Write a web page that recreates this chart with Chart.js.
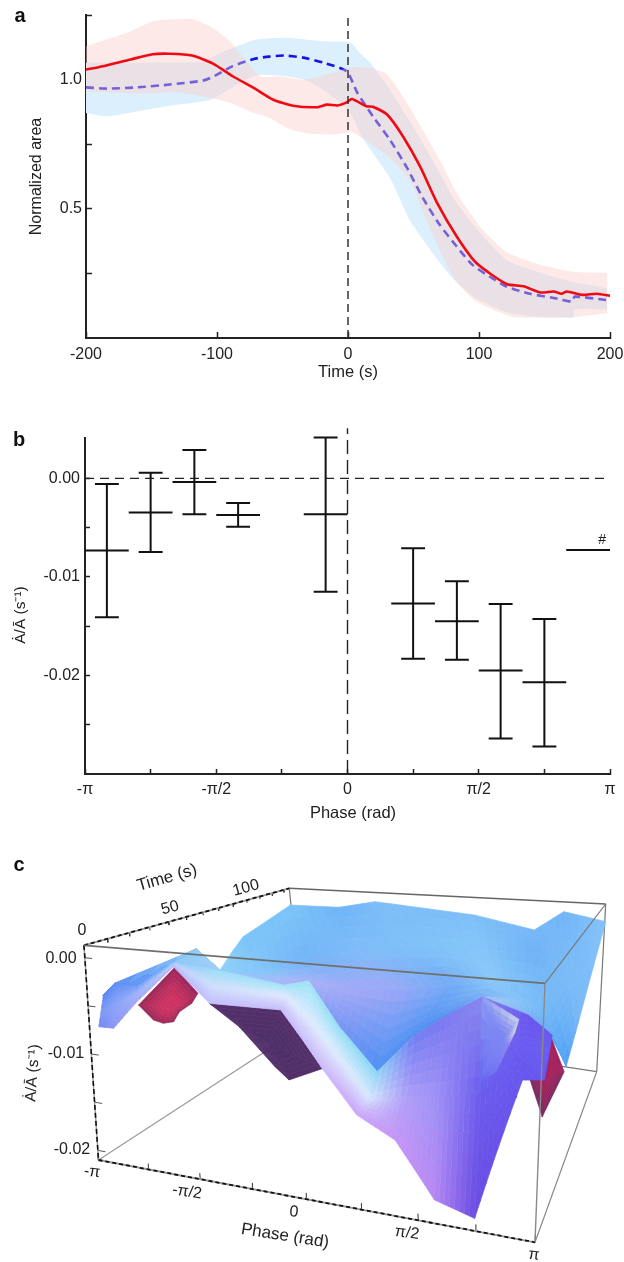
<!DOCTYPE html>
<html><head><meta charset="utf-8">
<style>html,body{margin:0;padding:0;background:#fff}
canvas{position:absolute;left:0;filter:blur(.55px)}
#ca{top:0}#cb{top:420px}#cc{top:850px}</style>
<script src="https://cdn.jsdelivr.net/npm/chart.js@4/dist/chart.umd.js"></script>
</head><body>
<canvas id="ca" width="624" height="400"></canvas>
<canvas id="cb" width="624" height="420"></canvas>
<canvas id="cc" width="624" height="412"></canvas>
<script>
const PI=Math.PI;
/* ---------- panel a data ---------- */
const redT=[-200,-187,-166,-149,-136,-119,-103,-88,-72,-57,-42,-24,-16,-8,-1,3,14,19,30,42,55,68,83,98,121,134,147,157,163,167,179,190,200];
const redV=[1.039,1.052,1.078,1.098,1.10,1.093,1.062,1.013,.968,.922,.899,.893,.903,.90,.912,.925,.897,.895,.864,.78,.664,.523,.393,.29,.209,.20,.176,.18,.171,.18,.167,.171,.163];
const blueT=[-200,-184,-161,-136,-110,-100,-88,-72,-60,-49,-34,-19,-1,7,19,32,45,57,70,83,95,108,121,139,157,171,173,200];
const blueV=[.97,.965,.97,.981,.997,1.019,1.052,1.08,1.089,1.093,1.085,1.066,1.032,.95,.858,.767,.659,.543,.438,.354,.283,.238,.199,.171,.155,.141,.16,.145];
const pinkTopT=[-200,-169,-149,-136,-118,-103,-90,-80,-67,-52,-34,-24,-8,0,17,30,45,57,70,83,101,121,147,172,198];
const pinkTopV=[1.129,1.181,1.226,1.233,1.233,1.20,1.148,1.085,1.013,1.012,1.0,1.008,1.032,1.047,1.045,1.02,.91,.806,.69,.562,.43,.333,.283,.256,.252];
const pinkLowT=[-200,-161,-131,-105,-90,-75,-60,-47,-34,-14,0,2,15,32,47,60,70,82,96,108,126,147,172,198];
const pinkLowV=[.955,.946,.951,.929,.91,.877,.852,.814,.794,.787,.794,.80,.76,.698,.612,.457,.341,.225,.147,.116,.081,.078,.081,.097];
const blueTopT=[-200,-149,-110,-100,-85,-70,-47,-19,2,9,17,32,45,57,70,83,101,121,147,172,198];
const blueTopV=[1.065,1.065,1.07,1.097,1.129,1.155,1.162,1.148,1.143,1.104,1.066,.961,.857,.755,.638,.522,.406,.302,.252,.217,.193];
const blueLowT=[-200,-184,-161,-136,-105,-85,-70,-47,-34,-19,0,12,32,47,63,79,96,121,147,170,172,173,198];
const blueLowV=[.871,.858,.877,.899,.922,.981,1.016,1.013,1.0,.961,.884,.767,.62,.457,.341,.236,.159,.101,.081,.078,.078,.11,.11];
const timeTicks=[-200,-100,0,100,200];
const areaTicks=[.25,.5,.75,1,1.25];
const areaTickLabels=['','0.5','','1.0',''];
/* ---------- panel b data ---------- */
const binPhase=[-11*PI/12,-9*PI/12,-7*PI/12,-5*PI/12,-PI/12,3*PI/12,5*PI/12,7*PI/12,9*PI/12];
const binMean=[-.00733,-.00345,-.00037,-.00372,-.00365,-.0127,-.0145,-.0195,-.0207];
const binHigh=[-.00057,.00057,.00287,-.0025,.00416,-.0071,-.01044,-.01274,-.01426];
const binLow=[-.0141,-.00747,-.00365,-.0049,-.0115,-.0183,-.0184,-.0264,-.0272];
const outlierPhase=11*PI/12, outlierMean=-.00726;
const phaseTicks=[-PI,-.75*PI,-PI/2,-.25*PI,0,.25*PI,PI/2,.75*PI,PI];
const phaseTickLabels=['-π','','-π/2','','0','','π/2','','π'];
const rateTicks=[0,-.005,-.01,-.015,-.02,-.025];
const rateTickLabels=['0.00','','-0.01','','-0.02',''];
/* ---------- panel c data: surface rows, back to front ---------- */
const surfaceTime=[119,89.3,53.6,23.8,9.5,0];
const surfacePhase=[
[-5.28,-5.28,-5.28,-5.28,-4.77,-4.47,-4.15,-3.00,-1.94,-1.17,.80,1.92,2.45,3.19],
[-4.30,-4.30,-4.30,-4.30,-3.83,-3.42,-3.09,-2.08,-.96,.10,1.24,2.20,2.87,2.97],
[-5.04,-4.79,-4.33,-3.12,-2.68,-1.63,-1.13,-.38,.42,1.33,1.94,2.42,2.73,3.05],
[-3.84,-3.62,-3.21,-2.51,-1.78,-.75,-.36,.06,.60,1.18,1.64,2.13,2.74,3.06],
[-3.33,-3.09,-2.70,-2.04,-1.45,-.34,-.04,.25,.76,1.29,1.73,2.29,2.85,3.15],
[-2.99,-2.75,-2.37,-1.73,-1.22,-.19,.09,.35,.78,1.29,1.80,2.34,2.92,3.18]];
const surfaceRate=[
[-.00948,-.00948,-.00948,-.00948,-.01261,-.00961,-.00666,-.00099,-.00089,.00028,-.00082,-.00237,.00033,-.00067],
[-.00644,-.00644,-.00644,-.00644,-.00924,-.00924,-.00919,-.00661,-.00456,-.00396,-.00332,-.00321,-.00525,-.01119],
[-.0104,-.00862,-.0085,-.00301,-.00562,-.00637,-.00563,-.00631,-.00577,-.0048,-.00404,-.00554,-.00712,-.0122],
[-.00659,-.00507,-.00499,-.0019,-.00247,-.00337,-.0027,-.00717,-.01135,-.00716,-.00499,-.00269,-.00405,-.00573],
[-.00688,-.00597,-.00434,-.00076,-.00274,-.00302,-.00512,-.00749,-.01204,-.01138,-.01098,-.01016,-.00543,-.0055],
[-.00703,-.00701,-.00418,-.0001,-.00339,-.00331,-.00593,-.00853,-.0123,-.01408,-.0189,-.0199,-.00722,-.007]];
const undersideTime=11.9;
const undersidePhase=[[-2.12,-1.78,-1.89,-2.10,-2.21,-2.38,-2.54,-2.77],[-1.61,-.51,.06,-.46,-.66,-1.17],[3.13,3.32,3.07,2.90,3.08]];
const undersideRate=[[-.00134,-.00386,-.00499,-.00601,-.00716,-.00746,-.00723,-.0058],[-.00479,-.00469,-.01006,-.01168,-.01052,-.00687],[-.00442,-.00758,-.01187,-.00869,-.00854]];
const peakTime=23.8;
const peakPhase=[2.13,2.62,2.57,2.50,2.32,2.10];
const peakRate=[-.00269,-.00454,-.00586,-.0070,-.00986,-.01109];
const surfaceTimeTicks=[0,10,20,30,40,50,60,70,80,90,100,110,120];
const surfaceRateTicks=[0,-.005,-.01,-.015,-.02];
/* shades per mesh vertex */
const shadeRows=[
['#8fd0f8','#8fd0f8','#8fd0f8','#8fd0f8','#9ad6f9','#86ccf9','#79c4f8','#7cc6f9','#6db3f7','#7dbcf8','#7dbef8','#78b8f8','#70b5f7','#87c4f9'],
['#8fd0f8','#8fd0f8','#8fd0f8','#8fd0f8','#8ccef8','#88caf9','#86c8f9','#72b4f7','#7fbdf8','#7fc0f9','#86c6f9','#6eb2f6','#7ebdf8','#78b8f7'],
['#5b8ff5','#5b8ff5','#5b8ff5','#8fd0f8','#a8ccf8','#a9b6f7','#a9b2f7','#a6aaf6','#9aa8f6','#70aaf6','#8cc8f9','#7ec0f8','#6fb6f7','#4e9ef5'],
['#5a86f4','#5a8cf5','#5e90f5','#8cc8f8','#a4c8f8','#a8b6f7','#a5b0f6','#7a96f3','#4f90f3','#4e8ef2','#5a86ee','#a9cdf4','#7ab0f6','#5aa8f6'],
['#5a86f4','#5f90f6','#6a98f6','#86c4f8','#9bdff7','#9ee2f8','#9de4f8','#93def7','#8ad6f6','#6f7cf2','#7c78f0','#8a8af0','#6a55ee','#6a58ee'],
['#7f9af6','#8ca4f8','#a0b4f9','#bcd0fb','#cfe0fc','#dfeafd','#dfebfd','#dfecfd','#d5e8fc','#ae9ff8','#9c90f6','#6a5cee','#6a5cf0','#6a5cf0'],
['#7888f4','#8a98f7','#a6a6f9','#b8b6fb','#c4bffb','#c6bcfa','#cabcfa','#cdb8fa','#cba2fa','#c596f6','#b888f2','#6a4ce2','#6656ee','#6656ee']];
const bandShades=[[0,1],[1,2],[2,3],[4,5],[5,6]];
const undersideEdgeShades=[['#96285a','#96285a','#96285a','#96285a','#96285a','#96285a','#96285a','#96285a'],['#55306b','#55306b','#55306b','#55306b','#55306b','#55306b'],['#b3205e','#8f265e','#6b2c63','#7a2a61','#8d2660']];
const undersideCentreShades=['#cf3362','#4f2f68','#a4235e'];
const peakEdgeShades=['#8d9ef4','#d4dce6','#dfe2da','#8d90f2','#7272f0','#6464ee'];
const peakCentreShade='#7d86f3';

/* ---------- helpers ---------- */
const FONT='"Liberation Sans"';
Chart.defaults.font.family=FONT;
Chart.defaults.font.size=16;
Chart.defaults.color='#222';
Chart.defaults.animation=false;
const pairs=(xs,ys)=>xs.map((x,i)=>({x,y:ys[i]}));
function noMargin(s){s.paddingLeft=0;s.paddingRight=0;s.paddingTop=0;s.paddingBottom=0;}
function axis(o){return Object.assign({
  type:'linear',
  border:{color:'#222',width:2},
  grid:{display:true,drawOnChartArea:false,drawTicks:true,tickLength:-6,tickColor:'#222',tickWidth:1.5}
},o);}
function letter(text,x,y){return{id:'letter'+text,afterDraw(ch){const c=ch.ctx;c.save();c.font='bold 20px '+FONT;c.fillStyle='#111';c.textAlign='center';c.textBaseline='middle';c.fillText(text,x,y);c.restore();}};}
function put(c,text,x,y,rot,font,color){c.save();c.translate(x,y);c.rotate((rot||0)*PI/180);c.font=font||('16px '+FONT);c.fillStyle=color||'#222';c.textAlign='center';c.textBaseline='middle';c.fillText(text,0,0);c.restore();}

/* ---------- panel a ---------- */
const lineBase={showLine:true,pointRadius:0,fill:false};
new Chart(document.getElementById('ca'),{
 type:'scatter',
 data:{datasets:[
  Object.assign({},lineBase,{label:'t0',data:[{x:0,y:0},{x:0,y:1.25}],borderColor:'#333',borderWidth:1.5,borderDash:[8,5],order:0}),
  Object.assign({},lineBase,{label:'Red',data:pairs(redT,redV),borderColor:'#f00a14',borderWidth:2.6,tension:.2,order:1}),
  Object.assign({},lineBase,{label:'Pink upper',data:pairs(pinkTopT,pinkTopV),borderWidth:0,borderColor:'transparent',fill:'+1',backgroundColor:'rgba(250,205,200,.42)',tension:.2,order:2}),
  Object.assign({},lineBase,{label:'Pink lower',data:pairs(pinkLowT,pinkLowV),borderWidth:0,borderColor:'transparent',tension:.2,order:2}),
  Object.assign({},lineBase,{label:'Blue',data:pairs(blueT,blueV),borderColor:'#1414e6',borderWidth:2.6,borderDash:[8,5],tension:.2,order:3}),
  Object.assign({},lineBase,{label:'Blue upper',data:pairs(blueTopT,blueTopV),borderWidth:0,borderColor:'transparent',fill:'+1',backgroundColor:'#dceffc',tension:.2,order:4}),
  Object.assign({},lineBase,{label:'Blue lower',data:pairs(blueLowT,blueLowV),borderWidth:0,borderColor:'transparent',tension:.2,order:4})
 ]},
 options:{responsive:false,layout:{padding:{top:15,right:14}},
  plugins:{legend:{display:false},tooltip:{enabled:false}},
  scales:{
   x:axis({min:-200,max:200,
     afterBuildTicks:s=>{s.ticks=timeTicks.map(value=>({value}));},
     afterFit:s=>{s.height=62;noMargin(s);},
     title:{display:true,text:'Time (s)',font:{size:16.5},padding:{top:0,bottom:18}},
     ticks:{padding:13,autoSkip:false,maxRotation:0,callback:(v,i)=>String(timeTicks[i])}}),
   y:axis({min:0,max:1.25,
     afterBuildTicks:s=>{s.ticks=areaTicks.map(value=>({value}));},
     afterFit:s=>{s.width=86;noMargin(s);},
     title:{display:true,text:'Normalized area',font:{size:16},padding:{top:27,bottom:0}},
     ticks:{padding:10,autoSkip:false,callback:(v,i)=>areaTickLabels[i]}})
  }},
 plugins:[letter('a',20,16)]
});

/* ---------- panel b ---------- */
function errorSegments(){const hw=PI/12,cap=.143,pts=[];const gap={x:0,y:null};
 binPhase.forEach((c,i)=>{
  pts.push({x:c-hw,y:binMean[i]},{x:c+hw,y:binMean[i]},gap,
           {x:c,y:binHigh[i]},{x:c,y:binLow[i]},gap,
           {x:c-cap,y:binHigh[i]},{x:c+cap,y:binHigh[i]},gap,
           {x:c-cap,y:binLow[i]},{x:c+cap,y:binLow[i]},gap);});
 pts.push({x:outlierPhase-PI/12,y:outlierMean},{x:outlierPhase+PI/12,y:outlierMean});
 return pts;}
new Chart(document.getElementById('cb'),{
 type:'scatter',
 data:{datasets:[
  Object.assign({},lineBase,{label:'Zero rate',data:[{x:-PI,y:0},{x:PI,y:0}],borderColor:'#222',borderWidth:1.4,borderDash:[9,6],order:1}),
  Object.assign({},lineBase,{label:'Zero phase',data:[{x:0,y:-.03},{x:0,y:.0051}],borderColor:'#222',borderWidth:1.4,borderDash:[14,6],clip:false,order:1}),
  Object.assign({},lineBase,{label:'Rate by phase bin',data:errorSegments(),borderColor:'#111',borderWidth:2,spanGaps:false,clip:false,order:0})
 ]},
 options:{responsive:false,layout:{padding:{top:18,right:14}},
  plugins:{legend:{display:false},tooltip:{enabled:false}},
  scales:{
   x:axis({min:-PI,max:PI,
     afterBuildTicks:s=>{s.ticks=phaseTicks.map(value=>({value}));},
     afterFit:s=>{s.height=66;noMargin(s);},
     grid:{display:true,drawOnChartArea:false,drawTicks:true,tickLength:-5,tickColor:'#222',tickWidth:1.5},
     ticks:{padding:11,autoSkip:false,maxRotation:0,callback:(v,i)=>phaseTickLabels[i]}}),
   y:axis({min:-.03,max:.0041,
     afterBuildTicks:s=>{s.ticks=rateTicks.map(value=>({value}));},
     afterFit:s=>{s.width=85;noMargin(s);},
     grid:{display:true,drawOnChartArea:false,drawTicks:true,tickLength:-5,tickColor:'#222',tickWidth:1.5},
     ticks:{padding:10,autoSkip:false,callback:(v,i)=>rateTickLabels[i]}})
  }},
 plugins:[letter('b',19,20),{id:'labelsB',afterDraw(ch){const c=ch.ctx,x=ch.scales.x,y=ch.scales.y;
   put(c,'Phase (rad)',353,393,0,'16.5px '+FONT);
   put(c,'Ȧ/Ā (s⁻¹)',21,195,-90,'15.5px '+FONT);
   put(c,'#',x.getPixelForValue(outlierPhase)+14,y.getPixelForValue(outlierMean)-10,0,'14px '+FONT);
 }}]
});

/* ---------- panel c: a 3D box seen in perspective ---------- */
const TM=125,RMIN=-.021,RMAX=.0013;
const floorQuad=[[98.5,1160],[535,1242.3],[303,1027],[596.7,1071.7]];
const roofQuad=[[84,945.3],[545,983.3],[289.3,888.3],[605.7,904]];
function homography(q){const[[x0,y0],[x1,y1],[x2,y2],[x3,y3]]=q;const dx1=x1-x3,dx2=x2-x3,sx=x0-x1+x3-x2,dy1=y1-y3,dy2=y2-y3,sy=y0-y1+y3-y2;const det=dx1*dy2-dx2*dy1;const g=(sx*dy2-dx2*sy)/det,h=(dx1*sy-sx*dy1)/det;return{a:x1-x0+g*x1,b:x2-x0+h*x2,c:x0,d:y1-y0+g*y1,e:y2-y0+h*y2,f:y0,g,h};}
const HF=homography(floorQuad),HT=homography(roofQuad);
const ap=(m,u,v)=>{const z=m.g*u+m.h*v+1;return[(m.a*u+m.b*v+m.c)/z,(m.d*u+m.e*v+m.f)/z];};
function project(phase,time,rate){const u=(phase+PI)/(2*PI),v=time/TM,w=(rate-RMIN)/(RMAX-RMIN);
 const f=ap(HF,u,v),t=ap(HT,u,v);return{x:f[0]+(t[0]-f[0])*w,y:f[1]+(t[1]-f[1])*w};}
const hex=h=>[1,3,5].map(i=>parseInt(h.substr(i,2),16));
const mix=(a,b,t)=>a.map((v,i)=>v+(b[i]-v)*t);
const css=c=>'rgb('+c.map(Math.round).join(',')+')';
const cDatasets=[];
function poly(pts,color){cDatasets.push({data:pts.concat([pts[0]]),showLine:true,pointRadius:0,tension:0,fill:'shape',backgroundColor:color,borderColor:color,borderWidth:.7});}
function stroke(a,b,color,width,dash){cDatasets.push({data:[a,b],showLine:true,pointRadius:0,fill:false,borderColor:color,borderWidth:width,borderDash:dash||[]});}
const D=(p,t,r)=>[p,t,r];
const P3=a=>project(a[0],a[1],a[2]);
const box={FLB:D(-PI,0,RMIN),FRB:D(PI,0,RMIN),BLB:D(-PI,TM,RMIN),BRB:D(PI,TM,RMIN),FLT:D(-PI,0,RMAX),FRT:D(PI,0,RMAX),BLT:D(-PI,TM,RMAX),BRT:D(PI,TM,RMAX)};
const edge=(a,b,c,w,d)=>stroke(P3(box[a]),P3(box[b]),c,w,d);
/* order: first pushed is drawn last, so push front items first */
edge('FLT','FRT','#6f6f6f',1.8);
edge('FRT','FRB','#8a8a8a',1.4);
edge('FRT','BRT','#777',1.2);
/* front axes */
edge('FLB','FRB','#111',1.8,[4,3]);edge('FLB','FRB','#999',1.8);
edge('FLT','BLT','#111',1.8,[4,3]);edge('FLT','BLT','#999',1.8);
edge('FLT','FLB','#111',1.6,[5,3]);edge('FLT','FLB','#999',1.4);
edge('FRB','BRB','#8a8a8a',1.2);
phaseTicks.forEach(p=>stroke(project(p,0,RMIN),project(p,0,RMIN+.0006),'#333',1));
surfaceTimeTicks.forEach(t=>stroke(project(-PI,t,RMAX),project(-PI,t,RMAX-.0004),'#333',1));
surfaceRateTicks.forEach(r=>stroke(project(-PI,0,r),project(-PI+.12,0,r),'#555',1));
/* surface, front band first */
function band(r0,bi,NU,NV){
 const[s0,s1]=bandShades[bi];
 for(let i=0;i<surfacePhase[0].length-1;i++){
  const corner=(r,c)=>[surfacePhase[r][c],surfaceTime[r],surfaceRate[r][c]];
  const a=corner(r0,i),b=corner(r0,i+1),cc=corner(r0+1,i),dd=corner(r0+1,i+1);
  const ca=hex(shadeRows[s0][i]),cb=hex(shadeRows[s0][i+1]),cc2=hex(shadeRows[s1][i]),cd=hex(shadeRows[s1][i+1]);
  const at=(s,t)=>{const p=[0,1,2].map(k=>(a[k]*(1-s)+b[k]*s)*(1-t)+(cc[k]*(1-s)+dd[k]*s)*t);return project(p[0],p[1],p[2]);};
  for(let t=NV-1;t>=0;t--)for(let s=0;s<NU;s++){
   const s0_=s/NU,s1_=(s+1)/NU,t0=t/NV,t1=(t+1)/NV,sm=(s+.5)/NU,tm=(t+.5)/NV;
   const col=css(mix(mix(ca,cb,sm),mix(cc2,cd,sm),tm));
   poly([at(s0_,t0),at(s1_,t0),at(s1_,t1),at(s0_,t1)],col);
  }
 }
}
/* a closed patch shaded from its rim towards its middle */
function fan(ph,rt,time,edgeShades,centreShade,RINGS,ARC){
 const n=ph.length;
 const cp=ph.reduce((a,b)=>a+b)/n,cr=rt.reduce((a,b)=>a+b)/n,ctr=hex(centreShade);
 for(let i=0;i<n;i++){const j=(i+1)%n;const ei=hex(edgeShades[i]),ej=hex(edgeShades[j]);
  for(let m=0;m<ARC;m++){const a0=m/ARC,a1=(m+1)/ARC,am=(m+.5)/ARC;const e=mix(ei,ej,am);
   const rim=a=>[ph[i]+(ph[j]-ph[i])*a,rt[i]+(rt[j]-rt[i])*a];
   const r0=rim(a0),r1=rim(a1);
   for(let q=0;q<RINGS;q++){const f0=q/RINGS,f1=(q+1)/RINGS;
    const pt=(r,f)=>project(cp+(r[0]-cp)*f,time,cr+(r[1]-cr)*f);
    poly([pt(r0,f0),pt(r1,f0),pt(r1,f1),pt(r0,f1)],css(mix(ctr,e,Math.pow((f0+f1)/2,2))));
   }}}
}
band(4,4,8,6);
fan(peakPhase,peakRate,peakTime,peakEdgeShades,peakCentreShade,6,4);
band(3,3,6,6);
/* undersides */
undersidePhase.forEach((ph,k)=>fan(ph,undersideRate[k],undersideTime,undersideEdgeShades[k],undersideCentreShades[k],8,1));
band(2,2,6,6);band(1,1,6,4);band(0,0,6,4);
/* back of the box */
edge('BLT','BRT','#666',1.6);
edge('BRT','BRB','#777',1.2);
edge('BLB','BRB','#777',1.2);
edge('FLB','BLB','#999',1.2);
edge('BLT','BLB','#777',1.2);

new Chart(document.getElementById('cc'),{
 type:'scatter',
 data:{datasets:cDatasets},
 options:{responsive:false,layout:{padding:0},
  plugins:{legend:{display:false},tooltip:{enabled:false}},
  scales:{x:{type:'linear',min:0,max:624,display:false},y:{type:'linear',min:850,max:1262,reverse:true,display:false}}},
 plugins:[letter('c',19,15),{id:'labelsC',afterDraw(ch){const c=ch.ctx,o=850;const f='16px '+FONT;
   put(c,'Time (s)',167,878-o,-16,'17px '+FONT);
   put(c,'0',82,931-o,0,f);
   put(c,'50',170,908-o,-15,f);
   put(c,'100',246,888-o,-15,f);
   put(c,'0.00',61,959-o,0,f);
   put(c,'-0.01',66,1054-o,0,f);
   put(c,'-0.02',72,1150-o,0,f);
   put(c,'Ȧ/Ā (s⁻¹)',33,1073-o,-86,'15.5px '+FONT);
   put(c,'-π',92,1172-o,6,f);
   put(c,'-π/2',187,1192-o,8,f);
   put(c,'0',294,1212-o,6,f);
   put(c,'Phase (rad)',285,1236-o,9,'17px '+FONT);
   put(c,'π/2',407,1233-o,8,f);
   put(c,'π',534,1255-o,6,f);
 }}]
});
</script></body></html>
